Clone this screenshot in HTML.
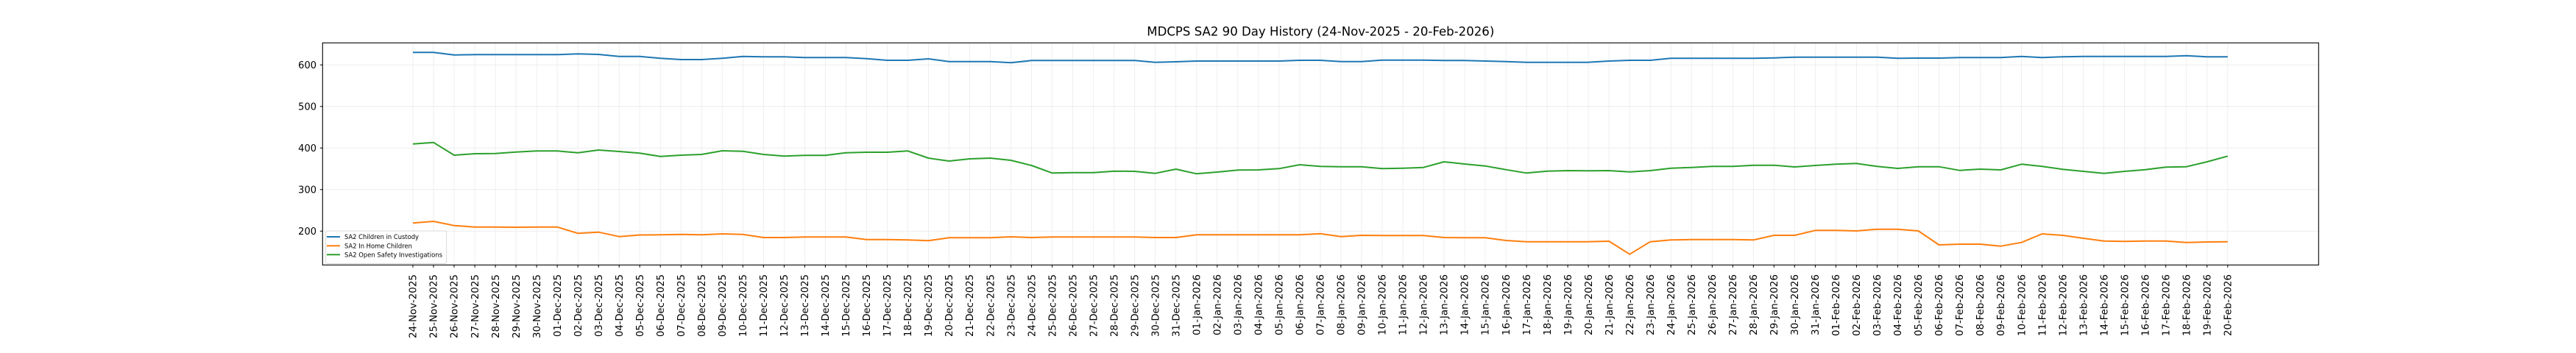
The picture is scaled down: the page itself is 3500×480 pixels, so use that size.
<!DOCTYPE html>
<html><head><meta charset="utf-8"><style>
html,body{margin:0;padding:0;background:#fff;}
svg{display:block;}
text{font-family:"DejaVu Sans","Liberation Sans",sans-serif;fill:#000;}
.xl text{font-size:13px;}
</style></head><body>
<svg width="3500" height="480" viewBox="0 0 3500 480" xmlns="http://www.w3.org/2000/svg">
<rect x="0" y="0" width="3500" height="480" fill="#fff"/>
<text x="1794.3" y="48.5" font-size="16.7" text-anchor="middle" textLength="472" lengthAdjust="spacingAndGlyphs">MDCPS SA2 90 Day History (24-Nov-2025 - 20-Feb-2026)</text>
<g stroke="#ebebeb" stroke-width="0.8">
<line x1="438.3" x2="3150.3" y1="88.3" y2="88.3"/><line x1="438.3" x2="3150.3" y1="144.8" y2="144.8"/><line x1="438.3" x2="3150.3" y1="201.3" y2="201.3"/><line x1="438.3" x2="3150.3" y1="257.8" y2="257.8"/><line x1="438.3" x2="3150.3" y1="314.3" y2="314.3"/>
</g>
<g id="vg" stroke="#ebebeb" stroke-width="0.8">
<path d="M561.0 58.3V360.3M589.0 58.3V360.3M617.0 58.3V360.3M645.1 58.3V360.3M673.1 58.3V360.3M701.1 58.3V360.3M729.1 58.3V360.3M757.1 58.3V360.3M785.2 58.3V360.3M813.2 58.3V360.3M841.2 58.3V360.3M869.2 58.3V360.3M897.2 58.3V360.3M925.3 58.3V360.3M953.3 58.3V360.3M981.3 58.3V360.3M1009.3 58.3V360.3M1037.3 58.3V360.3M1065.4 58.3V360.3M1093.4 58.3V360.3M1121.4 58.3V360.3M1149.4 58.3V360.3M1177.4 58.3V360.3M1205.5 58.3V360.3M1233.5 58.3V360.3M1261.5 58.3V360.3M1289.5 58.3V360.3M1317.5 58.3V360.3M1345.6 58.3V360.3M1373.6 58.3V360.3M1401.6 58.3V360.3M1429.6 58.3V360.3M1457.6 58.3V360.3M1485.7 58.3V360.3M1513.7 58.3V360.3M1541.7 58.3V360.3M1569.7 58.3V360.3M1597.7 58.3V360.3M1625.8 58.3V360.3M1653.8 58.3V360.3M1681.8 58.3V360.3M1709.8 58.3V360.3M1737.8 58.3V360.3M1765.9 58.3V360.3M1793.9 58.3V360.3M1821.9 58.3V360.3M1849.9 58.3V360.3M1877.9 58.3V360.3M1906.0 58.3V360.3M1934.0 58.3V360.3M1962.0 58.3V360.3M1990.0 58.3V360.3M2018.0 58.3V360.3M2046.1 58.3V360.3M2074.1 58.3V360.3M2102.1 58.3V360.3M2130.1 58.3V360.3M2158.1 58.3V360.3M2186.2 58.3V360.3M2214.2 58.3V360.3M2242.2 58.3V360.3M2270.2 58.3V360.3M2298.2 58.3V360.3M2326.3 58.3V360.3M2354.3 58.3V360.3M2382.3 58.3V360.3M2410.3 58.3V360.3M2438.3 58.3V360.3M2466.4 58.3V360.3M2494.4 58.3V360.3M2522.4 58.3V360.3M2550.4 58.3V360.3M2578.4 58.3V360.3M2606.5 58.3V360.3M2634.5 58.3V360.3M2662.5 58.3V360.3M2690.5 58.3V360.3M2718.5 58.3V360.3M2746.6 58.3V360.3M2774.6 58.3V360.3M2802.6 58.3V360.3M2830.6 58.3V360.3M2858.6 58.3V360.3M2886.7 58.3V360.3M2914.7 58.3V360.3M2942.7 58.3V360.3M2970.7 58.3V360.3M2998.7 58.3V360.3M3026.8 58.3V360.3"/>
</g>
<g fill="none" stroke-width="2" stroke-linejoin="round">
<polyline stroke="#1f77b4" points="561.0,71.3 589.0,71.3 617.0,74.7 645.1,74.3 673.1,74.3 701.1,74.3 729.1,74.3 757.1,74.3 785.2,73.3 813.2,74 841.2,76.7 869.2,76.7 897.2,79.3 925.3,81 953.3,81 981.3,79.3 1009.3,76.7 1037.3,77.3 1065.4,77.3 1093.4,78.3 1121.4,78.3 1149.4,78.3 1177.4,79.7 1205.5,82 1233.5,82 1261.5,80 1289.5,83.7 1317.5,83.7 1345.6,83.7 1373.6,85.3 1401.6,82.3 1429.6,82.3 1457.6,82.3 1485.7,82.3 1513.7,82.3 1541.7,82.3 1569.7,84.7 1597.7,84 1625.8,83 1653.8,83 1681.8,83 1709.8,83 1737.8,83 1765.9,82 1793.9,82 1821.9,83.7 1849.9,83.7 1877.9,81.7 1906.0,81.7 1934.0,81.7 1962.0,82.3 1990.0,82.3 2018.0,83 2046.1,83.7 2074.1,84.7 2102.1,84.7 2130.1,84.7 2158.1,84.7 2186.2,83 2214.2,82 2242.2,82 2270.2,79.3 2298.2,79.3 2326.3,79.3 2354.3,79.3 2382.3,79.3 2410.3,78.7 2438.3,77.7 2466.4,77.7 2494.4,77.7 2522.4,77.7 2550.4,77.7 2578.4,79.3 2606.5,79 2634.5,79 2662.5,78.3 2690.5,78.3 2718.5,78.3 2746.6,76.7 2774.6,78.3 2802.6,77.2 2830.6,76.7 2858.6,76.7 2886.7,76.7 2914.7,76.7 2942.7,76.7 2970.7,75.7 2998.7,77.3 3026.8,77.3"/>
<polyline stroke="#ff7f0e" points="561.0,303.3 589.0,301 617.0,306.7 645.1,308.7 673.1,308.7 701.1,309 729.1,308.7 757.1,308.7 785.2,317.3 813.2,315.7 841.2,321.7 869.2,319.5 897.2,319.3 925.3,318.7 953.3,319.3 981.3,318 1009.3,318.7 1037.3,323 1065.4,323 1093.4,322.3 1121.4,322.3 1149.4,322.3 1177.4,325.7 1205.5,325.7 1233.5,326.3 1261.5,327.3 1289.5,323.3 1317.5,323.3 1345.6,323.3 1373.6,322 1401.6,323 1429.6,322.3 1457.6,322.3 1485.7,322.3 1513.7,322.3 1541.7,322.3 1569.7,323 1597.7,323 1625.8,319.3 1653.8,319.3 1681.8,319.3 1709.8,319.3 1737.8,319.3 1765.9,319.3 1793.9,317.7 1821.9,321.7 1849.9,320 1877.9,320.3 1906.0,320.3 1934.0,320.3 1962.0,323 1990.0,323.3 2018.0,323.3 2046.1,327 2074.1,328.7 2102.1,328.7 2130.1,328.7 2158.1,328.7 2186.2,328 2214.2,345.7 2242.2,328.7 2270.2,326.3 2298.2,325.7 2326.3,325.7 2354.3,325.7 2382.3,326.3 2410.3,320 2438.3,320 2466.4,313.3 2494.4,313.3 2522.4,314 2550.4,311.7 2578.4,311.7 2606.5,314 2634.5,333 2662.5,332 2690.5,332 2718.5,334.7 2746.6,329.7 2774.6,318 2802.6,320 2830.6,324 2858.6,327.7 2886.7,328.3 2914.7,327.7 2942.7,327.7 2970.7,329.7 2998.7,329 3026.8,328.7"/>
<polyline stroke="#2ca02c" points="561.0,195.7 589.0,193.7 617.0,211 645.1,209 673.1,208.7 701.1,206.7 729.1,205.3 757.1,205.3 785.2,207.7 813.2,204 841.2,206 869.2,208.3 897.2,212.7 925.3,211 953.3,210 981.3,205 1009.3,205.7 1037.3,210 1065.4,212.3 1093.4,211.3 1121.4,211.3 1149.4,207.7 1177.4,207 1205.5,207 1233.5,205.3 1261.5,215 1289.5,219 1317.5,216 1345.6,215 1373.6,218 1401.6,225 1429.6,235.3 1457.6,234.7 1485.7,234.7 1513.7,232.7 1541.7,233 1569.7,235.7 1597.7,230 1625.8,236.3 1653.8,234 1681.8,231.3 1709.8,231 1737.8,229.3 1765.9,224 1793.9,226.3 1821.9,226.7 1849.9,226.7 1877.9,229.3 1906.0,228.7 1934.0,227.7 1962.0,220 1990.0,223 2018.0,225.7 2046.1,230.7 2074.1,235.3 2102.1,232.7 2130.1,232 2158.1,232.3 2186.2,232 2214.2,233.7 2242.2,232 2270.2,228.7 2298.2,227.7 2326.3,226.3 2354.3,226.3 2382.3,224.7 2410.3,224.7 2438.3,227 2466.4,225 2494.4,223.3 2522.4,222.3 2550.4,226.3 2578.4,229 2606.5,226.7 2634.5,226.7 2662.5,231.7 2690.5,230 2718.5,231 2746.6,223.3 2774.6,226.3 2802.6,230.2 2830.6,233 2858.6,235.7 2886.7,233 2914.7,230.7 2942.7,227.3 2970.7,226.7 2998.7,220 3026.8,212.3"/>
</g>
<rect x="438.3" y="58.3" width="2712" height="302" fill="none" stroke="#000" stroke-width="1.1"/>
<g stroke="#000" stroke-width="1">
<path d="M434.8 88.3H438.3M434.8 144.8H438.3M434.8 201.3H438.3M434.8 257.8H438.3M434.8 314.3H438.3"/>
</g>
<g stroke="#000" stroke-width="1">
<path d="M561.0 360.3v3.5M589.0 360.3v3.5M617.0 360.3v3.5M645.1 360.3v3.5M673.1 360.3v3.5M701.1 360.3v3.5M729.1 360.3v3.5M757.1 360.3v3.5M785.2 360.3v3.5M813.2 360.3v3.5M841.2 360.3v3.5M869.2 360.3v3.5M897.2 360.3v3.5M925.3 360.3v3.5M953.3 360.3v3.5M981.3 360.3v3.5M1009.3 360.3v3.5M1037.3 360.3v3.5M1065.4 360.3v3.5M1093.4 360.3v3.5M1121.4 360.3v3.5M1149.4 360.3v3.5M1177.4 360.3v3.5M1205.5 360.3v3.5M1233.5 360.3v3.5M1261.5 360.3v3.5M1289.5 360.3v3.5M1317.5 360.3v3.5M1345.6 360.3v3.5M1373.6 360.3v3.5M1401.6 360.3v3.5M1429.6 360.3v3.5M1457.6 360.3v3.5M1485.7 360.3v3.5M1513.7 360.3v3.5M1541.7 360.3v3.5M1569.7 360.3v3.5M1597.7 360.3v3.5M1625.8 360.3v3.5M1653.8 360.3v3.5M1681.8 360.3v3.5M1709.8 360.3v3.5M1737.8 360.3v3.5M1765.9 360.3v3.5M1793.9 360.3v3.5M1821.9 360.3v3.5M1849.9 360.3v3.5M1877.9 360.3v3.5M1906.0 360.3v3.5M1934.0 360.3v3.5M1962.0 360.3v3.5M1990.0 360.3v3.5M2018.0 360.3v3.5M2046.1 360.3v3.5M2074.1 360.3v3.5M2102.1 360.3v3.5M2130.1 360.3v3.5M2158.1 360.3v3.5M2186.2 360.3v3.5M2214.2 360.3v3.5M2242.2 360.3v3.5M2270.2 360.3v3.5M2298.2 360.3v3.5M2326.3 360.3v3.5M2354.3 360.3v3.5M2382.3 360.3v3.5M2410.3 360.3v3.5M2438.3 360.3v3.5M2466.4 360.3v3.5M2494.4 360.3v3.5M2522.4 360.3v3.5M2550.4 360.3v3.5M2578.4 360.3v3.5M2606.5 360.3v3.5M2634.5 360.3v3.5M2662.5 360.3v3.5M2690.5 360.3v3.5M2718.5 360.3v3.5M2746.6 360.3v3.5M2774.6 360.3v3.5M2802.6 360.3v3.5M2830.6 360.3v3.5M2858.6 360.3v3.5M2886.7 360.3v3.5M2914.7 360.3v3.5M2942.7 360.3v3.5M2970.7 360.3v3.5M2998.7 360.3v3.5M3026.8 360.3v3.5"/>
</g>
<g font-size="13" text-anchor="end">
<text x="430" y="93">600</text><text x="430" y="149.5">500</text><text x="430" y="206">400</text><text x="430" y="262.5">300</text><text x="430" y="319">200</text>
</g>
<g class="xl" text-anchor="end">
<text transform="translate(565.7,373) rotate(-90)" textLength="87" lengthAdjust="spacingAndGlyphs">24-Nov-2025</text>
<text transform="translate(593.7,373) rotate(-90)" textLength="87" lengthAdjust="spacingAndGlyphs">25-Nov-2025</text>
<text transform="translate(621.7,373) rotate(-90)" textLength="87" lengthAdjust="spacingAndGlyphs">26-Nov-2025</text>
<text transform="translate(649.8,373) rotate(-90)" textLength="87" lengthAdjust="spacingAndGlyphs">27-Nov-2025</text>
<text transform="translate(677.8,373) rotate(-90)" textLength="87" lengthAdjust="spacingAndGlyphs">28-Nov-2025</text>
<text transform="translate(705.8,373) rotate(-90)" textLength="87" lengthAdjust="spacingAndGlyphs">29-Nov-2025</text>
<text transform="translate(733.8,373) rotate(-90)" textLength="87" lengthAdjust="spacingAndGlyphs">30-Nov-2025</text>
<text transform="translate(761.8,373) rotate(-90)" textLength="85" lengthAdjust="spacingAndGlyphs">01-Dec-2025</text>
<text transform="translate(789.9,373) rotate(-90)" textLength="85" lengthAdjust="spacingAndGlyphs">02-Dec-2025</text>
<text transform="translate(817.9,373) rotate(-90)" textLength="85" lengthAdjust="spacingAndGlyphs">03-Dec-2025</text>
<text transform="translate(845.9,373) rotate(-90)" textLength="85" lengthAdjust="spacingAndGlyphs">04-Dec-2025</text>
<text transform="translate(873.9,373) rotate(-90)" textLength="85" lengthAdjust="spacingAndGlyphs">05-Dec-2025</text>
<text transform="translate(901.9,373) rotate(-90)" textLength="85" lengthAdjust="spacingAndGlyphs">06-Dec-2025</text>
<text transform="translate(930.0,373) rotate(-90)" textLength="85" lengthAdjust="spacingAndGlyphs">07-Dec-2025</text>
<text transform="translate(958.0,373) rotate(-90)" textLength="85" lengthAdjust="spacingAndGlyphs">08-Dec-2025</text>
<text transform="translate(986.0,373) rotate(-90)" textLength="85" lengthAdjust="spacingAndGlyphs">09-Dec-2025</text>
<text transform="translate(1014.0,373) rotate(-90)" textLength="85" lengthAdjust="spacingAndGlyphs">10-Dec-2025</text>
<text transform="translate(1042.0,373) rotate(-90)" textLength="85" lengthAdjust="spacingAndGlyphs">11-Dec-2025</text>
<text transform="translate(1070.1,373) rotate(-90)" textLength="85" lengthAdjust="spacingAndGlyphs">12-Dec-2025</text>
<text transform="translate(1098.1,373) rotate(-90)" textLength="85" lengthAdjust="spacingAndGlyphs">13-Dec-2025</text>
<text transform="translate(1126.1,373) rotate(-90)" textLength="85" lengthAdjust="spacingAndGlyphs">14-Dec-2025</text>
<text transform="translate(1154.1,373) rotate(-90)" textLength="85" lengthAdjust="spacingAndGlyphs">15-Dec-2025</text>
<text transform="translate(1182.1,373) rotate(-90)" textLength="85" lengthAdjust="spacingAndGlyphs">16-Dec-2025</text>
<text transform="translate(1210.2,373) rotate(-90)" textLength="85" lengthAdjust="spacingAndGlyphs">17-Dec-2025</text>
<text transform="translate(1238.2,373) rotate(-90)" textLength="85" lengthAdjust="spacingAndGlyphs">18-Dec-2025</text>
<text transform="translate(1266.2,373) rotate(-90)" textLength="85" lengthAdjust="spacingAndGlyphs">19-Dec-2025</text>
<text transform="translate(1294.2,373) rotate(-90)" textLength="85" lengthAdjust="spacingAndGlyphs">20-Dec-2025</text>
<text transform="translate(1322.2,373) rotate(-90)" textLength="85" lengthAdjust="spacingAndGlyphs">21-Dec-2025</text>
<text transform="translate(1350.3,373) rotate(-90)" textLength="85" lengthAdjust="spacingAndGlyphs">22-Dec-2025</text>
<text transform="translate(1378.3,373) rotate(-90)" textLength="85" lengthAdjust="spacingAndGlyphs">23-Dec-2025</text>
<text transform="translate(1406.3,373) rotate(-90)" textLength="85" lengthAdjust="spacingAndGlyphs">24-Dec-2025</text>
<text transform="translate(1434.3,373) rotate(-90)" textLength="85" lengthAdjust="spacingAndGlyphs">25-Dec-2025</text>
<text transform="translate(1462.3,373) rotate(-90)" textLength="85" lengthAdjust="spacingAndGlyphs">26-Dec-2025</text>
<text transform="translate(1490.4,373) rotate(-90)" textLength="85" lengthAdjust="spacingAndGlyphs">27-Dec-2025</text>
<text transform="translate(1518.4,373) rotate(-90)" textLength="85" lengthAdjust="spacingAndGlyphs">28-Dec-2025</text>
<text transform="translate(1546.4,373) rotate(-90)" textLength="85" lengthAdjust="spacingAndGlyphs">29-Dec-2025</text>
<text transform="translate(1574.4,373) rotate(-90)" textLength="85" lengthAdjust="spacingAndGlyphs">30-Dec-2025</text>
<text transform="translate(1602.4,373) rotate(-90)" textLength="85" lengthAdjust="spacingAndGlyphs">31-Dec-2025</text>
<text transform="translate(1630.5,373) rotate(-90)" textLength="83" lengthAdjust="spacingAndGlyphs">01-Jan-2026</text>
<text transform="translate(1658.5,373) rotate(-90)" textLength="83" lengthAdjust="spacingAndGlyphs">02-Jan-2026</text>
<text transform="translate(1686.5,373) rotate(-90)" textLength="83" lengthAdjust="spacingAndGlyphs">03-Jan-2026</text>
<text transform="translate(1714.5,373) rotate(-90)" textLength="83" lengthAdjust="spacingAndGlyphs">04-Jan-2026</text>
<text transform="translate(1742.5,373) rotate(-90)" textLength="83" lengthAdjust="spacingAndGlyphs">05-Jan-2026</text>
<text transform="translate(1770.6,373) rotate(-90)" textLength="83" lengthAdjust="spacingAndGlyphs">06-Jan-2026</text>
<text transform="translate(1798.6,373) rotate(-90)" textLength="83" lengthAdjust="spacingAndGlyphs">07-Jan-2026</text>
<text transform="translate(1826.6,373) rotate(-90)" textLength="83" lengthAdjust="spacingAndGlyphs">08-Jan-2026</text>
<text transform="translate(1854.6,373) rotate(-90)" textLength="83" lengthAdjust="spacingAndGlyphs">09-Jan-2026</text>
<text transform="translate(1882.6,373) rotate(-90)" textLength="83" lengthAdjust="spacingAndGlyphs">10-Jan-2026</text>
<text transform="translate(1910.7,373) rotate(-90)" textLength="83" lengthAdjust="spacingAndGlyphs">11-Jan-2026</text>
<text transform="translate(1938.7,373) rotate(-90)" textLength="83" lengthAdjust="spacingAndGlyphs">12-Jan-2026</text>
<text transform="translate(1966.7,373) rotate(-90)" textLength="83" lengthAdjust="spacingAndGlyphs">13-Jan-2026</text>
<text transform="translate(1994.7,373) rotate(-90)" textLength="83" lengthAdjust="spacingAndGlyphs">14-Jan-2026</text>
<text transform="translate(2022.7,373) rotate(-90)" textLength="83" lengthAdjust="spacingAndGlyphs">15-Jan-2026</text>
<text transform="translate(2050.8,373) rotate(-90)" textLength="83" lengthAdjust="spacingAndGlyphs">16-Jan-2026</text>
<text transform="translate(2078.8,373) rotate(-90)" textLength="83" lengthAdjust="spacingAndGlyphs">17-Jan-2026</text>
<text transform="translate(2106.8,373) rotate(-90)" textLength="83" lengthAdjust="spacingAndGlyphs">18-Jan-2026</text>
<text transform="translate(2134.8,373) rotate(-90)" textLength="83" lengthAdjust="spacingAndGlyphs">19-Jan-2026</text>
<text transform="translate(2162.8,373) rotate(-90)" textLength="83" lengthAdjust="spacingAndGlyphs">20-Jan-2026</text>
<text transform="translate(2190.9,373) rotate(-90)" textLength="83" lengthAdjust="spacingAndGlyphs">21-Jan-2026</text>
<text transform="translate(2218.9,373) rotate(-90)" textLength="83" lengthAdjust="spacingAndGlyphs">22-Jan-2026</text>
<text transform="translate(2246.9,373) rotate(-90)" textLength="83" lengthAdjust="spacingAndGlyphs">23-Jan-2026</text>
<text transform="translate(2274.9,373) rotate(-90)" textLength="83" lengthAdjust="spacingAndGlyphs">24-Jan-2026</text>
<text transform="translate(2302.9,373) rotate(-90)" textLength="83" lengthAdjust="spacingAndGlyphs">25-Jan-2026</text>
<text transform="translate(2331.0,373) rotate(-90)" textLength="83" lengthAdjust="spacingAndGlyphs">26-Jan-2026</text>
<text transform="translate(2359.0,373) rotate(-90)" textLength="83" lengthAdjust="spacingAndGlyphs">27-Jan-2026</text>
<text transform="translate(2387.0,373) rotate(-90)" textLength="83" lengthAdjust="spacingAndGlyphs">28-Jan-2026</text>
<text transform="translate(2415.0,373) rotate(-90)" textLength="83" lengthAdjust="spacingAndGlyphs">29-Jan-2026</text>
<text transform="translate(2443.0,373) rotate(-90)" textLength="83" lengthAdjust="spacingAndGlyphs">30-Jan-2026</text>
<text transform="translate(2471.1,373) rotate(-90)" textLength="83" lengthAdjust="spacingAndGlyphs">31-Jan-2026</text>
<text transform="translate(2499.1,373) rotate(-90)" textLength="84" lengthAdjust="spacingAndGlyphs">01-Feb-2026</text>
<text transform="translate(2527.1,373) rotate(-90)" textLength="84" lengthAdjust="spacingAndGlyphs">02-Feb-2026</text>
<text transform="translate(2555.1,373) rotate(-90)" textLength="84" lengthAdjust="spacingAndGlyphs">03-Feb-2026</text>
<text transform="translate(2583.1,373) rotate(-90)" textLength="84" lengthAdjust="spacingAndGlyphs">04-Feb-2026</text>
<text transform="translate(2611.2,373) rotate(-90)" textLength="84" lengthAdjust="spacingAndGlyphs">05-Feb-2026</text>
<text transform="translate(2639.2,373) rotate(-90)" textLength="84" lengthAdjust="spacingAndGlyphs">06-Feb-2026</text>
<text transform="translate(2667.2,373) rotate(-90)" textLength="84" lengthAdjust="spacingAndGlyphs">07-Feb-2026</text>
<text transform="translate(2695.2,373) rotate(-90)" textLength="84" lengthAdjust="spacingAndGlyphs">08-Feb-2026</text>
<text transform="translate(2723.2,373) rotate(-90)" textLength="84" lengthAdjust="spacingAndGlyphs">09-Feb-2026</text>
<text transform="translate(2751.3,373) rotate(-90)" textLength="84" lengthAdjust="spacingAndGlyphs">10-Feb-2026</text>
<text transform="translate(2779.3,373) rotate(-90)" textLength="84" lengthAdjust="spacingAndGlyphs">11-Feb-2026</text>
<text transform="translate(2807.3,373) rotate(-90)" textLength="84" lengthAdjust="spacingAndGlyphs">12-Feb-2026</text>
<text transform="translate(2835.3,373) rotate(-90)" textLength="84" lengthAdjust="spacingAndGlyphs">13-Feb-2026</text>
<text transform="translate(2863.3,373) rotate(-90)" textLength="84" lengthAdjust="spacingAndGlyphs">14-Feb-2026</text>
<text transform="translate(2891.4,373) rotate(-90)" textLength="84" lengthAdjust="spacingAndGlyphs">15-Feb-2026</text>
<text transform="translate(2919.4,373) rotate(-90)" textLength="84" lengthAdjust="spacingAndGlyphs">16-Feb-2026</text>
<text transform="translate(2947.4,373) rotate(-90)" textLength="84" lengthAdjust="spacingAndGlyphs">17-Feb-2026</text>
<text transform="translate(2975.4,373) rotate(-90)" textLength="84" lengthAdjust="spacingAndGlyphs">18-Feb-2026</text>
<text transform="translate(3003.4,373) rotate(-90)" textLength="84" lengthAdjust="spacingAndGlyphs">19-Feb-2026</text>
<text transform="translate(3031.5,373) rotate(-90)" textLength="84" lengthAdjust="spacingAndGlyphs">20-Feb-2026</text>
</g>
<rect x="442.7" y="314" width="164" height="44.3" rx="2" fill="#fff" fill-opacity="0.85" stroke="#d0d0d0" stroke-width="0.8"/>
<g stroke-width="2">
<line x1="444" x2="462" y1="322" y2="322" stroke="#1f77b4"/>
<line x1="444" x2="462" y1="334.3" y2="334.3" stroke="#ff7f0e"/>
<line x1="444" x2="462" y1="346.3" y2="346.3" stroke="#2ca02c"/>
</g>
<g font-size="8.5">
<text x="468" y="325.2" textLength="101" lengthAdjust="spacingAndGlyphs">SA2 Children in Custody</text>
<text x="468" y="337.5" textLength="92" lengthAdjust="spacingAndGlyphs">SA2 In Home Children</text>
<text x="468" y="349.5" textLength="133" lengthAdjust="spacingAndGlyphs">SA2 Open Safety Investigations</text>
</g>
</svg>
</body></html>
